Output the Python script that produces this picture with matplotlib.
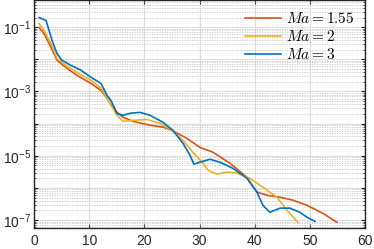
import math
import matplotlib
matplotlib.use("Agg")
import matplotlib.pyplot as plt
from matplotlib.ticker import FixedLocator, FuncFormatter, NullFormatter
from matplotlib.font_manager import FontProperties

plt.rcParams["font.family"] = "Liberation Sans"
plt.rcParams["mathtext.fontset"] = "custom"
plt.rcParams["mathtext.rm"] = "Liberation Sans"
plt.rcParams["mathtext.it"] = "Liberation Sans:italic"

# Ma = 1.55  (x, log10 of value)
x155 = [0.91, 1.81, 3.08, 4.17, 5.98, 7.79, 10.33, 12.14, 13.22, 13.77, 15.04, 16.12, 17.93,
        21.01, 23.37, 25.0, 27.72, 30.07, 32.43, 35.51, 38.59, 40.40, 42.21, 44.57, 46.92,
        49.46, 52.36, 54.89]
e155 = [-1.01, -1.20, -1.63, -2.03, -2.28, -2.50, -2.75, -2.97, -3.21, -3.37, -3.65, -3.80,
        -3.93, -4.05, -4.11, -4.21, -4.46, -4.74, -4.89, -5.23, -5.67, -6.13, -6.23, -6.29,
        -6.38, -6.54, -6.79, -7.07]
# Ma = 2
x2 = [0.91, 1.81, 3.08, 4.17, 5.80, 7.79, 10.33, 12.14, 13.77, 15.04, 16.12, 17.93, 20.47,
      22.83, 25.0, 26.99, 28.80, 30.62, 31.52, 33.15, 34.96, 36.78, 39.13, 41.49, 44.02,
      45.83, 47.83]
e2 = [-0.89, -1.10, -1.51, -1.97, -2.19, -2.41, -2.65, -2.90, -3.37, -3.74, -3.93, -3.90,
      -3.87, -3.99, -4.21, -4.52, -4.89, -5.23, -5.45, -5.57, -5.51, -5.54, -5.70, -5.98,
      -6.29, -6.69, -7.07]
# Ma = 3
x3 = [0.91, 2.17, 2.72, 3.26, 4.17, 5.07, 6.70, 8.51, 10.33, 12.14, 13.22, 13.95, 15.04,
      16.12, 17.39, 19.20, 21.01, 23.37, 25.18, 26.99, 28.26, 28.99, 30.07, 31.88, 33.70,
      36.05, 38.59, 40.40, 41.49, 42.75, 44.57, 46.38, 48.19, 49.46, 50.91]
e3 = [-0.70, -0.79, -1.10, -1.41, -1.82, -2.03, -2.19, -2.34, -2.56, -2.75, -3.12, -3.28,
      -3.68, -3.74, -3.68, -3.65, -3.74, -3.96, -4.21, -4.61, -4.98, -5.26, -5.20, -5.11,
      -5.20, -5.39, -5.70, -6.13, -6.54, -6.76, -6.63, -6.63, -6.76, -6.91, -7.04]

labels = ["$Ma = 1.55$", "$Ma = 2$", "$Ma = 3$"]
colors = ["#D95319", "#EDB120", "#0072BD"]

fig = plt.figure(figsize=(3.74, 2.49), dpi=100)
ax = fig.add_axes([0.091, 0.084, 0.885, 0.914])

for xs, es, lab, c in zip([x155, x2, x3], [e155, e2, e3], labels, colors):
    ax.semilogy(xs, [10 ** e for e in es], color=c, lw=1.2, label=lab)

ax.set_xlim(0, 60)
ax.set_ylim(10 ** -7.25, 10 ** -0.17)
ax.set_xticks(range(0, 61, 10))

dec = [10.0 ** k for k in range(-8, 1)]


def ylab(v, p):
    k = round(math.log10(v))
    return "$10^{%d}$" % k if k % 2 else ""


ax.yaxis.set_major_locator(FixedLocator(dec))
ax.yaxis.set_major_formatter(FuncFormatter(ylab))
ax.yaxis.set_minor_locator(FixedLocator([m * d for d in dec for m in range(2, 10)]))
ax.yaxis.set_minor_formatter(NullFormatter())

ax.grid(True, which="major", color="#dedede", lw=0.9, ls="-")
ax.grid(True, which="minor", axis="y", color="#c8c8c8", lw=0.6, ls=(0, (1.5, 1.5)))
ax.set_axisbelow(True)

for s in ax.spines.values():
    s.set_color("#262626")
    s.set_linewidth(1.0)
ax.tick_params(which="both", direction="in", top=True, right=True, colors="#262626",
               labelsize=10, labelcolor="#262626")
ax.tick_params(which="major", length=3, pad=2)
ax.tick_params(which="minor", length=1.5)
ax.tick_params(axis="x", pad=4)

ax.legend(loc="upper right", frameon=False, handlelength=2.4, handletextpad=0.3,
          labelspacing=0.2, borderaxespad=0.3,
          prop=FontProperties(size=11, math_fontfamily="cm"))

fig.savefig("out.png", dpi=100)
